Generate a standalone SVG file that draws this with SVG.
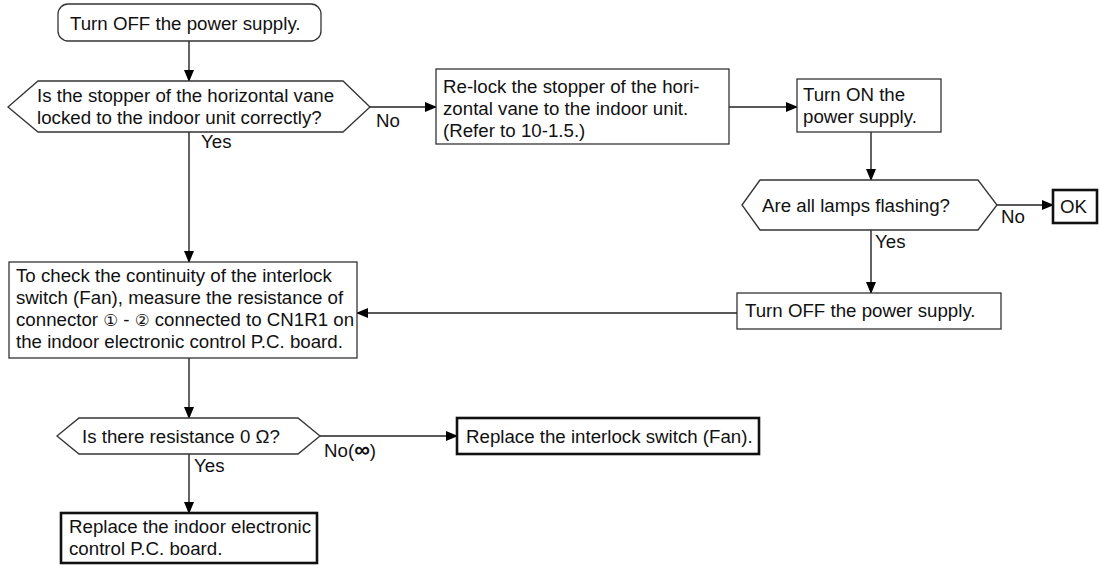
<svg xmlns="http://www.w3.org/2000/svg" width="1100" height="565" viewBox="0 0 1100 565">
<defs>
<marker id="ah" markerWidth="12" markerHeight="10" refX="11" refY="5" orient="auto" markerUnits="userSpaceOnUse">
<path d="M0,0 L12,5 L0,10 Z" fill="#000"/>
</marker>
<style>
.t{font-family:"Liberation Sans",Arial,"DejaVu Sans",sans-serif;font-size:18.7px;fill:#111}
.d{font-size:16.5px}
.inf{font-size:22px;font-weight:bold}
.b{fill:#fff;stroke:#333;stroke-width:1.3}
.k{fill:#fff;stroke:#111;stroke-width:2.6}
.c{fill:none;stroke:#222;stroke-width:1.4;marker-end:url(#ah)}
</style>
</defs>
<rect width="1100" height="565" fill="#fff"/>
<g id="connectors">
<line class="c" x1="189" y1="41" x2="189" y2="81"/>
<line class="c" x1="370" y1="107" x2="436" y2="107"/>
<line class="c" x1="729" y1="107" x2="797" y2="107"/>
<line class="c" x1="871" y1="132" x2="871" y2="180"/>
<line class="c" x1="997" y1="205" x2="1053" y2="205"/>
<line class="c" x1="871" y1="230" x2="871" y2="293"/>
<line class="c" x1="737" y1="313" x2="357" y2="313"/>
<line class="c" x1="189" y1="132" x2="189" y2="262"/>
<line class="c" x1="189" y1="358" x2="189" y2="418"/>
<line class="c" x1="320" y1="436" x2="457" y2="436"/>
<line class="c" x1="189" y1="454" x2="189" y2="513"/>
<text class="t" x="376" y="127">No</text>
<text class="t" x="201" y="148">Yes</text>
<text class="t" x="1001" y="223">No</text>
<text class="t" x="875" y="248">Yes</text>
<text class="t" x="324" y="457">No(<tspan class="inf">∞</tspan>)</text>
<text class="t" x="194" y="472">Yes</text>
</g>
<g id="start">
<rect class="b" x="58" y="4" width="263" height="37" rx="10"/>
<text class="t" x="70" y="30">Turn OFF the power supply.</text>
</g>
<g id="q1">
<polygon class="b" points="8,107 38,81 343,81 370,107 343,132 38,132"/>
<text class="t" x="37" y="102">Is the stopper of the horizontal vane</text>
<text class="t" x="37" y="124">locked to the indoor unit correctly?</text>
</g>
<g id="relock">
<rect class="b" x="436" y="69" width="293" height="75"/>
<text class="t" x="443" y="93">Re-lock the stopper of the hori-</text>
<text class="t" x="443" y="115">zontal vane to the indoor unit.</text>
<text class="t" x="443" y="137">(Refer to 10-1.5.)</text>
</g>
<g id="turnon">
<rect class="b" x="797" y="79" width="144" height="53"/>
<text class="t" x="803" y="101">Turn ON the</text>
<text class="t" x="803" y="123">power supply.</text>
</g>
<g id="q2">
<polygon class="b" points="742,205 760,180 978,180 997,205 978,230 760,230"/>
<text class="t" x="762" y="212">Are all lamps flashing?</text>
</g>
<g id="ok">
<rect class="k" x="1053" y="190" width="44" height="33"/>
<text class="t" x="1060" y="213">OK</text>
</g>
<g id="turnoff2">
<rect class="b" x="737" y="293" width="264" height="36"/>
<text class="t" x="745" y="317">Turn OFF the power supply.</text>
</g>
<g id="check">
<rect class="b" x="9" y="262" width="348" height="96"/>
<text class="t" x="16" y="282">To check the continuity of the interlock</text>
<text class="t" x="16" y="304">switch (Fan), measure the resistance of</text>
<text class="t" x="16" y="326">connector <tspan class="d">①</tspan> - <tspan class="d">②</tspan> connected to CN1R1 on</text>
<text class="t" x="16" y="348">the indoor electronic control P.C. board.</text>
</g>
<g id="q3">
<polygon class="b" points="57,436 79,418 298,418 320,436 298,454 79,454"/>
<text class="t" x="82" y="443">Is there resistance 0 Ω?</text>
</g>
<g id="replace-switch">
<rect class="k" x="457" y="418" width="302" height="36"/>
<text class="t" x="466" y="443">Replace the interlock switch (Fan).</text>
</g>
<g id="replace-board">
<rect class="k" x="61" y="513" width="256" height="50"/>
<text class="t" x="69" y="533">Replace the indoor electronic</text>
<text class="t" x="69" y="555">control P.C. board.</text>
</g>
</svg>
